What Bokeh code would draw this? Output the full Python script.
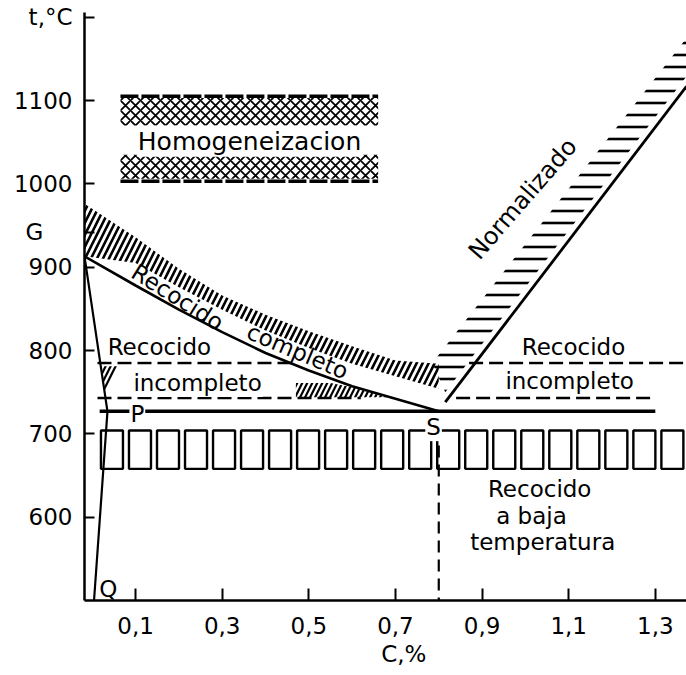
import numpy as np
from bokeh.plotting import figure
from bokeh.models import Range1d, FixedTicker
from bokeh.core.properties import value
from bokeh.embed import file_html
from bokeh.resources import INLINE

FONT = "DejaVu Sans"

# ---------------- data (C %, t °C) ----------------
x_ticks = [0.1, 0.3, 0.5, 0.7, 0.9, 1.1, 1.3]
x_tick_labels = ["0,1", "0,3", "0,5", "0,7", "0,9", "1,1", "1,3"]
y_ticks = [600, 700, 800, 900, 942, 1000, 1100, 1200]
y_tick_labels = ["600", "700", "800", "900", "G\u00a0\u00a0\u00a0\u00a0", "1000", "1100", "t,°C"]
x_title = "\u00a0\u00a0\u00a0\u00a0\u00a0C,%"

# GS line (A3) and upper limit of the full-annealing band
gs_c = [-0.018, 0.1, 0.2, 0.3, 0.4, 0.5, 0.6, 0.7, 0.8]
gs_t = [913, 878, 849, 822, 797, 776, 757, 742, 727]
full_top_t = [976, 936, 898, 866, 843, 823, 805, 788, 784]

# G-P and P-Q lines
gpq_c = [-0.018, 0.035, 0.004]
gpq_t = [913, 727, 500]

# P-S-K line
psk_c = [0.017, 1.30]
psk_t = [727, 727]

# S-E (Acm) line and normalizing band
acm_c = [0.815, 1.372]
acm_t = [738, 1117]
norm_band_c = [0.785, 1.372, 1.372, 0.815]
norm_band_t = [785, 1175, 1129, 750]

# incomplete annealing limits
inc_top_t = 785
inc_bot_t = 743
inc_left_top_c = [0.012, 0.46]
inc_left_bot_c = [0.012, 0.62]
inc_right_top_c = [0.87, 1.372]
inc_right_bot_c = [0.84, 1.30]
inc_hatch1_c = [0.020, 0.060, 0.030]
inc_hatch1_t = [781, 781, 750]
inc_hatch2_c = [0.47, 0.68, 0.60, 0.55, 0.47]
inc_hatch2_t = [744, 744, 756, 761, 761]

# homogenizing band
homog_c = [0.065, 0.66]
homog_upper = [1070, 1103]
homog_lower = [1006, 1035]
homog_edges = [1105, 1003]

# low-temperature annealing band
low_band_t = [658, 704]
low_band_c = [0.02, 1.372]

# eutectoid composition (vertical dashed)
s_c = 0.8
s_line_t = [686, 500]

# ---------------- figure ----------------
p = figure(width=686, height=675,
           x_range=Range1d(-0.018, 1.372), y_range=Range1d(500, 1205.6),
           output_backend="svg", toolbar_location=None,
           min_border_left=84, min_border_right=0,
           min_border_top=12, min_border_bottom=75)
p.grid.visible = False
p.outline_line_color = None
p.background_fill_color = "white"

# axes
p.xaxis.ticker = FixedTicker(ticks=x_ticks)
p.xaxis.major_label_overrides = dict(zip(x_ticks, x_tick_labels))
p.yaxis.ticker = FixedTicker(ticks=y_ticks)
p.yaxis.major_label_overrides = dict(zip(y_ticks, y_tick_labels))
for ax in (p.xaxis, p.yaxis):
    ax.axis_line_width = 2.5
    ax.axis_line_color = "black"
    ax.major_tick_line_width = 2
    ax.major_tick_line_color = "black"
    ax.major_tick_out = 0
    ax.minor_tick_line_color = None
    ax.major_label_text_font = FONT
    ax.major_label_text_font_size = "23px"
    ax.major_label_text_color = "black"
p.xaxis.major_tick_in = 12
p.xaxis.major_label_standoff = 16
p.yaxis.major_tick_in = 10
p.yaxis.major_label_standoff = 12
p.xaxis.axis_label = x_title
p.xaxis.axis_label_text_font = FONT
p.xaxis.axis_label_text_font_size = "23px"
p.xaxis.axis_label_text_font_style = "normal"
p.xaxis.axis_label_text_color = "black"
p.xaxis.axis_label_standoff = 4

# homogenizing band
p.quad(left=[homog_c[0]] * 2, right=[homog_c[1]] * 2,
       bottom=[homog_upper[0], homog_lower[0]], top=[homog_upper[1], homog_lower[1]],
       fill_color=None, line_color=None,
       hatch_pattern="diagonal_cross", hatch_color="black", hatch_weight=1.8, hatch_scale=10)
p.multi_line(xs=[homog_c, homog_c], ys=[[homog_edges[0]] * 2, [homog_edges[1]] * 2],
             line_color="black", line_width=3.5, line_dash="18 3")

# full annealing band (hatched)
full_low_t = [t + 27 for t in gs_t]
full_low_t[0] = gs_t[0]
p.patch(x=gs_c + gs_c[::-1], y=full_top_t + full_low_t[::-1],
        fill_color=None, line_color=None,
        hatch_pattern="right_diagonal_line", hatch_color="black", hatch_weight=2.6, hatch_scale=12)

# normalizing band (hatched)
p.patch(x=norm_band_c, y=norm_band_t, fill_color=None, line_color=None,
        hatch_pattern="horizontal_line", hatch_color="black", hatch_weight=2.6, hatch_scale=12)

# incomplete annealing hatch pieces
p.patch(x=inc_hatch1_c, y=inc_hatch1_t, fill_color=None, line_color=None,
        hatch_pattern="right_diagonal_line", hatch_color="black", hatch_weight=2.2, hatch_scale=10)
p.patch(x=inc_hatch2_c, y=inc_hatch2_t, fill_color=None, line_color=None,
        hatch_pattern="right_diagonal_line", hatch_color="black", hatch_weight=2.2, hatch_scale=10)

# incomplete annealing dashed limits
p.multi_line(xs=[inc_left_top_c, inc_left_bot_c, inc_right_top_c, inc_right_bot_c],
             ys=[[inc_top_t] * 2, [inc_bot_t] * 2, [inc_top_t] * 2, [inc_bot_t] * 2],
             line_color="black", line_width=2.4, line_dash="14 6")

# low temperature annealing band: row of rectangles
cell_left = np.arange(low_band_c[0], low_band_c[1], 0.0647)
cell_right = cell_left + 0.0508
p.quad(left=cell_left, right=cell_right,
       bottom=[low_band_t[0]] * len(cell_left), top=[low_band_t[1]] * len(cell_left),
       fill_color=None, line_color="black", line_width=2.4)

# phase lines
p.line(gs_c, gs_t, line_color="black", line_width=2.6)
p.line(gpq_c, gpq_t, line_color="black", line_width=2.2)
p.line(psk_c, psk_t, line_color="black", line_width=3.5)
p.line(acm_c, acm_t, line_color="black", line_width=2.8)
p.line([s_c, s_c], s_line_t, line_color="black", line_width=2.2, line_dash="12 7")

# ---------------- texts ----------------
def txt(xs, ys, texts, size="23px", angle=0.0, bg=None):
    kw = {}
    if bg:
        kw = dict(background_fill_color=bg, padding=1)
    p.text(x=xs, y=ys, text=texts, angle=angle,
           text_font=value(FONT), text_font_size=size, text_color="black",
           text_align="center", text_baseline="middle", **kw)

txt([0.363], [1051], ["Homogeneizacion"], size="25px", bg="white")
txt([0.155, 0.243, 1.111, 1.102], [804, 761, 804, 764],
    ["Recocido", "incompleto", "Recocido", "incompleto"], bg="white")
txt([1.033, 1.014, 1.040], [634, 602, 570], ["Recocido", "a baja", "temperatura"])
txt([0.994], [982], ["Normalizado"], size="24px", angle=np.deg2rad(49))
txt([0.197], [864], ["Recocido"], angle=np.deg2rad(-32))
txt([0.474], [799], ["completo"], angle=np.deg2rad(-23))
txt([0.104, 0.788, 0.037], [724, 708, 514], ["P", "S", "Q"], bg="white")

open("out.html", "w").write(file_html(p, INLINE))
